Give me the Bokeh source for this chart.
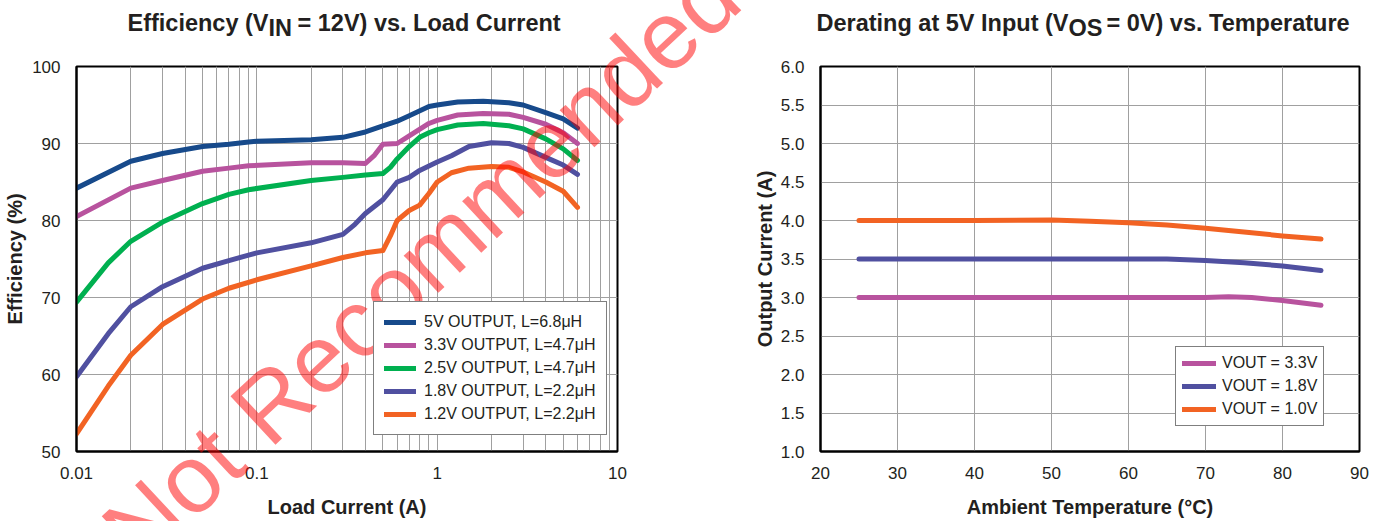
from bokeh.plotting import figure
from bokeh.layouts import row
from bokeh.models import (Legend, LegendItem, FixedTicker, CustomJSTickFormatter,
                          Range1d, LinearScale)
from bokeh.core.properties import value
from bokeh.embed import file_html
from bokeh.resources import INLINE

# ---------------- data: efficiency vs load current ----------------
x_5v0 = [0.01, 0.02, 0.03, 0.05, 0.07, 0.09, 0.1, 0.2, 0.3, 0.4, 0.5, 0.6, 0.7, 0.9, 1.0, 1.3, 1.8, 2.5, 3.0, 4.0, 5.0, 6.0]
y_5v0 = [84.2, 87.7, 88.7, 89.6, 89.9, 90.2, 90.3, 90.5, 90.8, 91.5, 92.3, 92.9, 93.6, 94.8, 95.0, 95.4, 95.5, 95.3, 95.0, 94.0, 93.2, 92.0]

x_3v3 = [0.01, 0.02, 0.03, 0.05, 0.07, 0.09, 0.2, 0.3, 0.4, 0.45, 0.5, 0.6, 0.7, 0.9, 1.0, 1.3, 1.8, 2.5, 3.0, 4.0, 5.0, 6.0]
y_3v3 = [80.5, 84.2, 85.2, 86.4, 86.8, 87.1, 87.5, 87.5, 87.4, 88.5, 89.9, 90.0, 91.0, 92.6, 93.0, 93.7, 93.9, 93.8, 93.4, 92.5, 91.4, 90.0]

x_2v5 = [0.01, 0.015, 0.02, 0.03, 0.05, 0.07, 0.09, 0.2, 0.3, 0.4, 0.5, 0.55, 0.6, 0.7, 0.8, 0.9, 1.0, 1.3, 1.8, 2.5, 3.0, 4.0, 5.0, 6.0]
y_2v5 = [69.4, 74.5, 77.3, 79.8, 82.2, 83.4, 84.0, 85.2, 85.6, 85.9, 86.1, 86.9, 88.0, 89.6, 90.8, 91.4, 91.8, 92.4, 92.6, 92.3, 91.9, 90.6, 89.3, 87.8]

x_1v8 = [0.01, 0.015, 0.02, 0.03, 0.05, 0.07, 0.09, 0.1, 0.2, 0.3, 0.35, 0.4, 0.5, 0.6, 0.7, 0.8, 1.0, 1.2, 1.5, 2.0, 2.5, 3.0, 4.0, 5.0, 6.0]
y_1v8 = [59.7, 65.3, 68.8, 71.4, 73.8, 74.8, 75.5, 75.8, 77.1, 78.2, 79.5, 80.9, 82.7, 85.0, 85.6, 86.5, 87.6, 88.4, 89.6, 90.1, 90.0, 89.5, 88.2, 87.2, 86.0]

x_1v2 = [0.01, 0.015, 0.02, 0.03, 0.05, 0.07, 0.1, 0.2, 0.3, 0.4, 0.5, 0.55, 0.6, 0.7, 0.8, 0.9, 1.0, 1.2, 1.5, 2.0, 2.5, 3.0, 4.0, 5.0, 6.0]
y_1v2 = [52.3, 58.5, 62.5, 66.5, 69.8, 71.2, 72.3, 74.1, 75.2, 75.8, 76.1, 78.0, 80.0, 81.3, 82.0, 83.5, 85.0, 86.2, 86.8, 87.0, 86.9, 86.3, 85.0, 83.8, 81.7]

eff_labels = ["5V OUTPUT, L=6.8μH", "3.3V OUTPUT, L=4.7μH", "2.5V OUTPUT, L=4.7μH",
              "1.8V OUTPUT, L=2.2μH", "1.2V OUTPUT, L=2.2μH"]
eff_colors = ["#174A8B", "#B8539E", "#00B050", "#5050A0", "#F26323"]

load_major_ticks = [0.01, 0.1, 1, 10]
load_minor_ticks = [m * d for d in (0.01, 0.1, 1) for m in range(2, 10)]
eff_ticks = [50, 60, 70, 80, 90, 100]

# ---------------- data: derating vs temperature ----------------
t_3v3 = [25, 30, 40, 50, 60, 65, 70, 73, 76, 80, 85]
i_3v3 = [3.0, 3.0, 3.0, 3.0, 3.0, 3.0, 3.0, 3.01, 3.0, 2.96, 2.9]
t_1v8 = [25, 40, 50, 60, 65, 70, 75, 80, 85]
i_1v8 = [3.5, 3.5, 3.5, 3.5, 3.5, 3.48, 3.45, 3.41, 3.35]
t_1v0 = [25, 40, 50, 55, 60, 65, 70, 75, 80, 85]
i_1v0 = [4.0, 4.0, 4.005, 3.99, 3.97, 3.94, 3.9, 3.85, 3.8, 3.76]

der_labels = ["VOUT = 3.3V", "VOUT = 1.8V", "VOUT = 1.0V"]
der_colors = ["#B8539E", "#5050A0", "#F26323"]

temp_ticks = [20, 30, 40, 50, 60, 70, 80, 90]
cur_ticks = [1.0, 1.5, 2.0, 2.5, 3.0, 3.5, 4.0, 4.5, 5.0, 5.5, 6.0]

# ---------------- titles and watermark texts ----------------
title1_parts = ["Efficiency (V", "IN", " = 12V) vs. Load Current"]
title2_parts = ["Derating at 5V Input (V", "OS", " = 0V) vs. Temperature"]
watermark = "Not Recommended"

FONT = "Liberation Sans, Arial, Helvetica, sans-serif"
TXT = "#231F20"
GRID = "#A0A0A0"
H = 521
FRAME_TOP, FRAME_BOTTOM = 66, 451


def style(p):
    p.outline_line_color = "black"
    p.outline_line_width = 2
    for ax in (p.xaxis[0], p.yaxis[0]):
        ax.axis_line_color = "black"
        ax.axis_line_width = 2
        ax.major_tick_line_color = None
        ax.minor_tick_line_color = None
        ax.major_label_text_font = FONT
        ax.major_label_text_font_size = "17px"
        ax.major_label_text_color = TXT
        ax.axis_label_text_font = FONT
        ax.axis_label_text_font_size = "20px"
        ax.axis_label_text_font_style = "bold"
        ax.axis_label_text_color = TXT
    p.xaxis.major_label_standoff = 9
    p.xaxis.axis_label_standoff = 14
    p.yaxis.major_label_standoff = 10
    for g in (p.xgrid[0], p.ygrid[0]):
        g.grid_line_color = GRID
        g.grid_line_width = 1


def page_ranges(p, frame_left, frame_right):
    # pixel-based helper ranges (page coordinates) for texts outside the frame
    p.extra_x_ranges = {"px": Range1d(frame_left, frame_right)}
    p.extra_y_ranges = {"px": Range1d(H - FRAME_BOTTOM, H - FRAME_TOP)}
    p.extra_x_scales = {"px": LinearScale()}
    p.extra_y_scales = {"px": LinearScale()}


def title_text(p, anchor_x, parts, sub_w):
    common = dict(text_font=value(FONT), text_font_style="bold",
                  text_font_size="23.5px", text_color=TXT, text_baseline="alphabetic",
                  x_range_name="px", y_range_name="px", level="overlay")
    p.text(x=[anchor_x], y=[H - 22], text=[parts[0]], text_align="right", **common)
    p.text(x=[anchor_x], y=[H - 27], text=[parts[1]], text_align="left", **common)
    p.text(x=[anchor_x + sub_w], y=[H - 22], text=[parts[2]], text_align="left", **common)


# ---------------- left chart ----------------
p1 = figure(x_axis_type="log", x_range=(0.01, 10), y_range=(50, 100),
            frame_width=541, frame_height=385,
            min_border_left=76, min_border_right=128,
            min_border_top=66, min_border_bottom=70,
            toolbar_location=None, output_backend="svg", title=None)
style(p1)
page_ranges(p1, 76, 617)
p1.xaxis.ticker = FixedTicker(ticks=load_major_ticks, minor_ticks=load_minor_ticks)
p1.xaxis.formatter = CustomJSTickFormatter(code="return tick.toString();")
p1.yaxis.ticker = FixedTicker(ticks=eff_ticks)
p1.xgrid.minor_grid_line_color = GRID
p1.xgrid.minor_grid_line_width = 1
p1.xaxis.axis_label = "Load Current (A)"
p1.yaxis.axis_label = "Efficiency (%)"
p1.yaxis.axis_label_standoff = 3

items = []
for xs, ys, lab, col in zip([x_5v0, x_3v3, x_2v5, x_1v8, x_1v2],
                            [y_5v0, y_3v3, y_2v5, y_1v8, y_1v2],
                            eff_labels, eff_colors):
    r = p1.line(xs, ys, line_color=col, line_width=5, line_cap="round", line_join="round")
    items.append(LegendItem(label=lab, renderers=[r]))

p1.add_layout(Legend(items=items, location=(297, 16), label_text_font=FONT,
                     label_text_font_size="16px", label_text_color=TXT,
                     glyph_width=32, glyph_height=20, label_height=20, spacing=3,
                     padding=10, margin=0, label_standoff=8,
                     border_line_color="black", border_line_width=1,
                     background_fill_color="white", background_fill_alpha=1), "center")

title_text(p1, 268, title1_parts, 29)
p1.text(x=[420], y=[H - 263], text=[watermark], text_font=value(FONT),
        text_font_size="96px", text_color="#FF0000", text_alpha=0.5,
        angle=43, angle_units="deg", text_align="center", text_baseline="middle",
        x_range_name="px", y_range_name="px", level="overlay")

# ---------------- right chart ----------------
p2 = figure(x_range=(20, 90), y_range=(1.0, 6.0),
            frame_width=539, frame_height=385,
            min_border_left=75, min_border_right=23,
            min_border_top=66, min_border_bottom=70,
            toolbar_location=None, output_backend="svg", title=None)
style(p2)
page_ranges(p2, 820, 1359)
p2.xaxis.ticker = FixedTicker(ticks=temp_ticks)
p2.yaxis.ticker = FixedTicker(ticks=cur_ticks)
p2.yaxis.formatter = CustomJSTickFormatter(code="return tick.toFixed(1);")
p2.xaxis.axis_label = "Ambient Temperature (°C)"
p2.yaxis.axis_label = "Output Current (A)"
p2.yaxis.axis_label_standoff = 2

items2 = []
for xs, ys, lab, col in zip([t_3v3, t_1v8, t_1v0], [i_3v3, i_1v8, i_1v0],
                            der_labels, der_colors):
    r = p2.line(xs, ys, line_color=col, line_width=5, line_cap="round", line_join="round")
    items2.append(LegendItem(label=lab, renderers=[r]))

p2.add_layout(Legend(items=items2, location=(355, 25), label_text_font=FONT,
                     label_text_font_size="16px", label_text_color=TXT,
                     glyph_width=34, glyph_height=20, label_height=20, spacing=3,
                     padding=6, margin=0, label_standoff=6,
                     border_line_color="black", border_line_width=1,
                     background_fill_color="white", background_fill_alpha=1), "center")

title_text(p2, 1068, title2_parts, 38)

layout = row(p1, p2)
open("out.html", "w").write(file_html(layout, INLINE))
